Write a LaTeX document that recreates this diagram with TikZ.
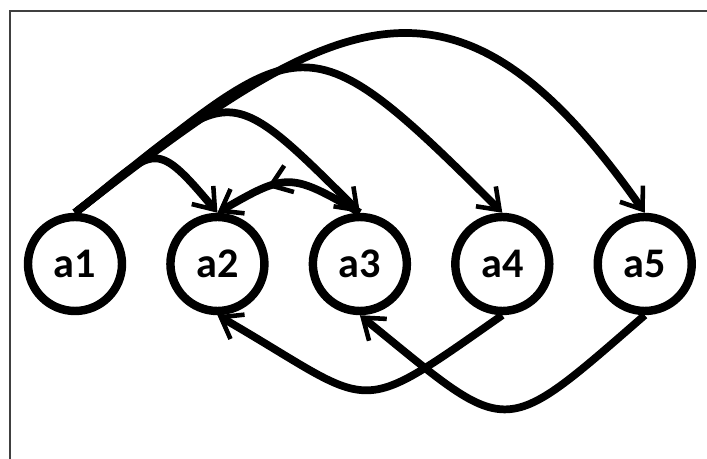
\documentclass[tikz,border=0pt]{standalone}
\usepackage{fontspec}
\setmainfont{Carlito}
\usetikzlibrary{arrows.meta, positioning, decorations.markings}

\begin{document}
\begin{tikzpicture}[
    node distance=0.40cm,
    vert/.style={circle, draw=black, line width=2.4pt, minimum size=0.94cm,
                 inner sep=0pt, font=\fontsize{12}{14}\selectfont\bfseries},
    arr/.style={-{Straight Barb[length=5.5pt, width=8pt, line width=1.3pt]},
                line width=2.2pt},
    midtip/.style={postaction={decorate, decoration={markings,
                   mark=at position 0.64 with {\arrow{Straight Barb[length=5.5pt, width=8pt, line width=1.3pt]}}}}}
  ]
    \useasboundingbox (0,0) rectangle (7.07,4.59);
    \draw[black!75, line width=0.8pt] (0.10,0) -- (0.10,4.48) -- (7.07,4.48);

    \node[vert] (a1) at (0.75,1.95) {a1};
    \node[vert, right=of a1] (a2) {a2};
    \node[vert, right=of a2] (a3) {a3};
    \node[vert, right=of a3] (a4) {a4};
    \node[vert, right=of a4] (a5) {a5};

    % arcs leaving a1
    \draw[arr] (a1.north) to[out=38, in=130, looseness=1.86] (a2.north);
    \draw[arr] (a1.north) to[out=38, in=135, looseness=1.81] (a3.north);
    \draw[arr] (a1.north) to[out=38, in=135, looseness=1.75] (a4.north);
    \draw[arr] (a1.north) to[out=38, in=125, looseness=1.49] (a5.north);

    \draw[arr, midtip] (a3.north) to[out=150, in=30, looseness=1.45] (a2.north);

    % arcs below
    \draw[arr] (a4.south) to[out=215, in=-30, looseness=1.67] (a2.south);
    \draw[arr] (a5.south) to[out=221, in=-39, looseness=1.75] (a3.south);

  \end{tikzpicture}
\end{document}
